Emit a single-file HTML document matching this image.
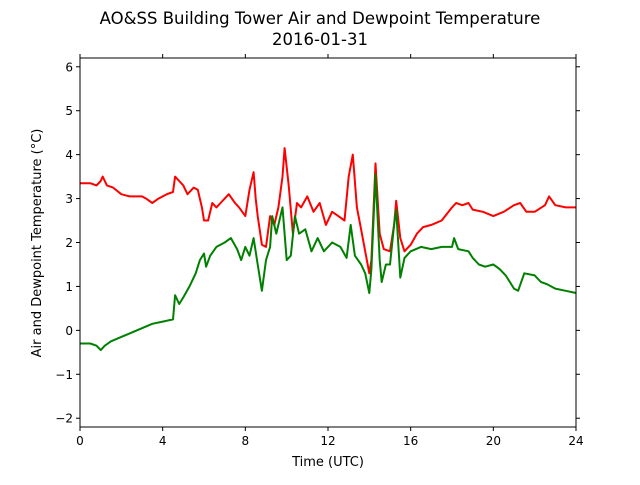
<!DOCTYPE html>
<html><head><meta charset="utf-8"><style>
body{margin:0;background:#fff;font-family:"Liberation Sans",sans-serif;}
svg text{font-family:"DejaVu Sans","Liberation Sans",sans-serif;}
</style></head><body>
<svg id="chart" width="640" height="480" xmlns="http://www.w3.org/2000/svg">
<rect width="640" height="480" fill="#fff"/>
<text x="320" y="24" font-size="16.5" text-anchor="middle">AO&amp;SS Building Tower Air and Dewpoint Temperature</text>
<text x="320" y="45" font-size="16.5" text-anchor="middle">2016-01-31</text>
<g id="plot"></g>
<text x="328" y="466" font-size="13" text-anchor="middle">Time (UTC)</text>
<text transform="translate(41,243) rotate(-90)" font-size="13" text-anchor="middle">Air and Dewpoint Temperature (°C)</text>
</svg>
<script>
const xTicks=[0,4,8,12,16,20,24];
const yTicks=[-2,-1,0,1,2,3,4,5,6];
const airTime=[0,0.5,0.8,1.0,1.1,1.3,1.6,2,2.4,3,3.2,3.5,3.8,4.2,4.5,4.6,4.8,5,5.2,5.5,5.7,5.9,6.0,6.2,6.4,6.6,6.8,7.0,7.2,7.5,7.7,8.0,8.2,8.4,8.5,8.6,8.8,9.0,9.2,9.4,9.6,9.8,9.9,10.1,10.3,10.5,10.7,11,11.3,11.6,11.9,12.2,12.5,12.8,13.0,13.2,13.4,13.6,13.8,14.0,14.1,14.3,14.5,14.7,15.0,15.2,15.3,15.5,15.7,16,16.3,16.6,17,17.5,18,18.2,18.5,18.8,19,19.5,20,20.5,21,21.3,21.6,22,22.5,22.7,23,23.5,24];
const airTemp=[3.35,3.35,3.3,3.4,3.5,3.3,3.25,3.1,3.05,3.05,3.0,2.9,3.0,3.1,3.15,3.5,3.4,3.3,3.1,3.25,3.2,2.8,2.5,2.5,2.9,2.8,2.9,3.0,3.1,2.9,2.8,2.6,3.2,3.6,3.0,2.6,1.95,1.9,2.6,2.4,2.8,3.5,4.15,3.3,2.2,2.9,2.8,3.05,2.7,2.9,2.4,2.7,2.6,2.5,3.5,4.0,2.8,2.3,1.8,1.3,1.6,3.8,2.2,1.85,1.8,2.4,2.95,2.1,1.8,1.95,2.2,2.35,2.4,2.5,2.8,2.9,2.85,2.9,2.75,2.7,2.6,2.7,2.85,2.9,2.7,2.7,2.85,3.05,2.85,2.8,2.8];
const dewTime=[0,0.5,0.8,1.0,1.2,1.5,2,2.5,3,3.5,4,4.5,4.6,4.8,5,5.3,5.6,5.8,6.0,6.1,6.3,6.6,7.0,7.3,7.6,7.8,8.0,8.2,8.4,8.6,8.8,9.0,9.2,9.3,9.5,9.8,10.0,10.2,10.4,10.6,10.9,11.2,11.5,11.8,12.2,12.6,12.9,13.1,13.3,13.6,13.8,14.0,14.1,14.3,14.5,14.6,14.8,15.0,15.2,15.3,15.5,15.7,16,16.5,17,17.5,18,18.1,18.3,18.8,19,19.3,19.6,20,20.3,20.6,21,21.2,21.5,22,22.3,22.6,23,23.5,24];
const dewTemp=[-0.3,-0.3,-0.35,-0.45,-0.35,-0.25,-0.15,-0.05,0.05,0.15,0.2,0.25,0.8,0.6,0.75,1.0,1.3,1.6,1.75,1.45,1.7,1.9,2.0,2.1,1.85,1.6,1.9,1.7,2.1,1.5,0.9,1.6,1.9,2.6,2.2,2.8,1.6,1.7,2.6,2.2,2.3,1.8,2.1,1.8,2.0,1.9,1.65,2.4,1.7,1.5,1.3,0.85,1.4,3.55,1.6,1.1,1.5,1.5,2.4,2.75,1.2,1.65,1.8,1.9,1.85,1.9,1.9,2.1,1.85,1.8,1.65,1.5,1.45,1.5,1.4,1.25,0.95,0.9,1.3,1.25,1.1,1.05,0.95,0.9,0.85];

const L=80,R=576,T=58,B=427,xmin=0,xmax=24,ymin=-2.2,ymax=6.2;
const sx=v=>L+(v-xmin)/(xmax-xmin)*(R-L);
const sy=v=>B-(v-ymin)/(ymax-ymin)*(B-T);
const NS='http://www.w3.org/2000/svg';
const g=document.getElementById('plot');
function mk(t,a){const e=document.createElementNS(NS,t);for(const k in a)e.setAttribute(k,a[k]);g.appendChild(e);return e;}
function series(xs,ys,color,name){
  const d=xs.map((x,i)=>(i?'L':'M')+sx(x).toFixed(1)+','+sy(ys[i]).toFixed(1)).join('');
  const p=mk('path',{d:d,fill:'none',stroke:color,'stroke-width':2,'stroke-linejoin':'round'});
  
  
}
series(airTime,airTemp,'#ff0000','air-temperature-line');
series(dewTime,dewTemp,'#008000','dewpoint-temperature-line');
const frame=mk('rect',{x:L,y:T,width:R-L,height:B-T,fill:'none',stroke:'#000','stroke-width':1});


xTicks.forEach(v=>{
  const x=sx(v);
  const t=mk('line',{x1:x,x2:x,y1:B,y2:B+4,stroke:'#000'});
  
  
  mk('line',{x1:x,x2:x,y1:T,y2:T-4,stroke:'#000'});
  const l=mk('text',{x:x,y:B+18,'font-size':12,'text-anchor':'middle'});
  l.textContent=v;
  
  
});
yTicks.forEach(v=>{
  const y=sy(v);
  const t=mk('line',{x1:L-4,x2:L,y1:y,y2:y,stroke:'#000'});
  
  
  mk('line',{x1:R,x2:R+4,y1:y,y2:y,stroke:'#000'});
  const l=mk('text',{x:L-7,y:y+4.5,'font-size':12,'text-anchor':'end'});
  l.textContent=v<0?'\u2212'+(-v):v;
  
  
});
</script>
</body></html>
